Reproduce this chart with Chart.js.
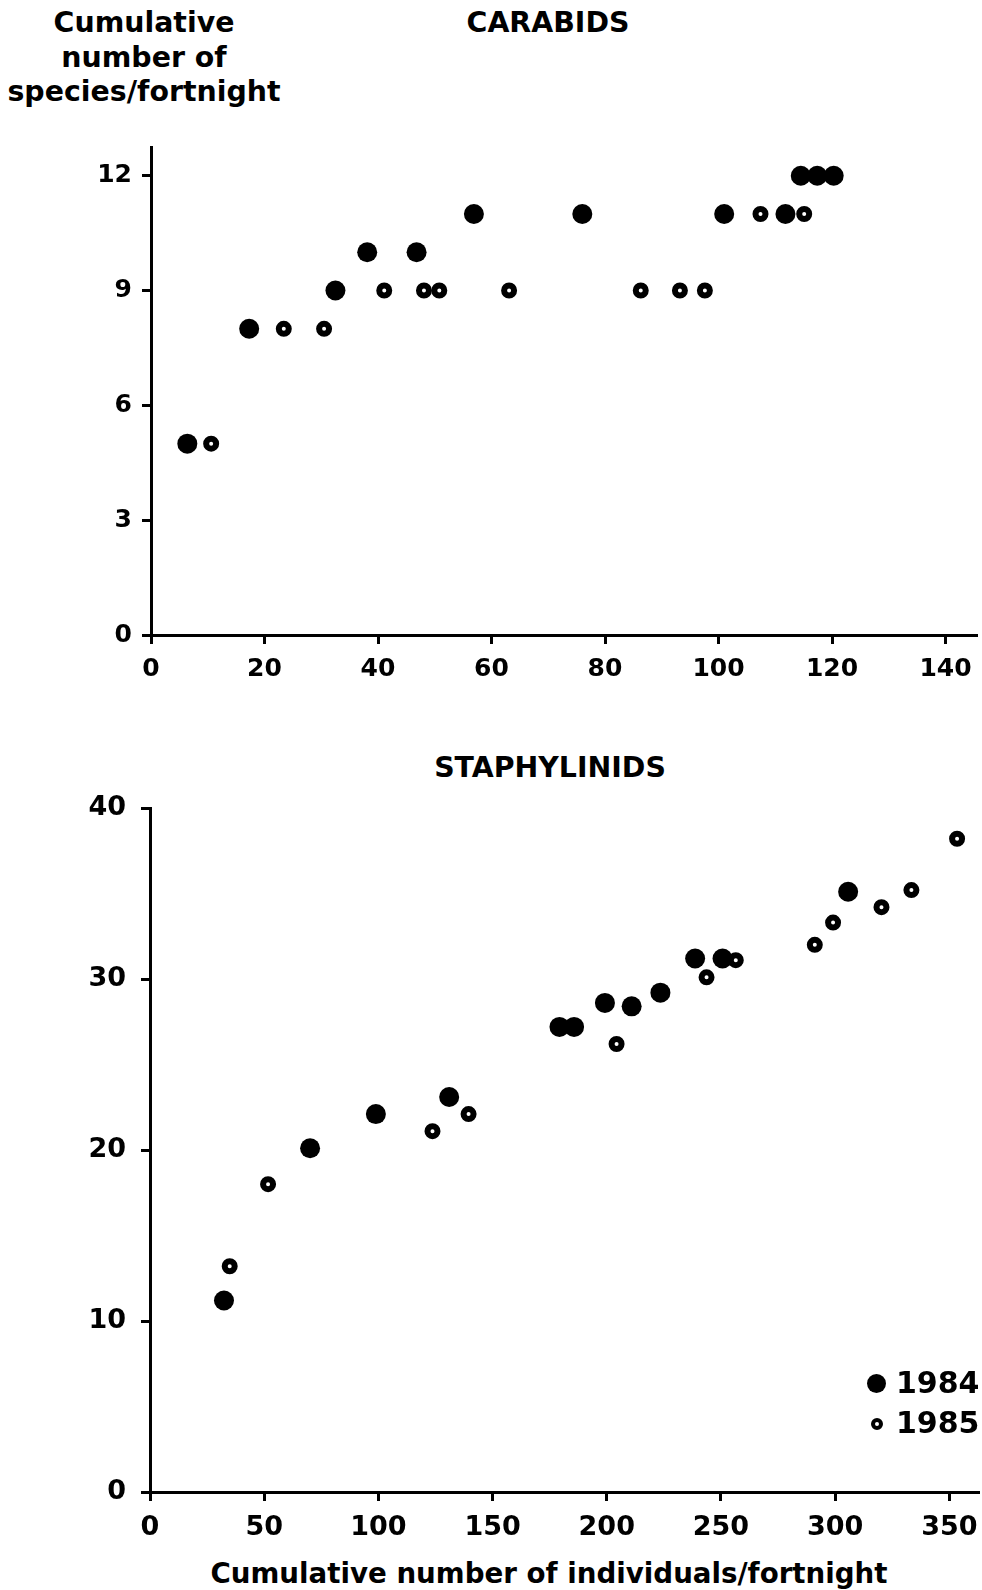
<!DOCTYPE html>
<html>
<head>
<meta charset="utf-8">
<script src="https://cdn.jsdelivr.net/npm/chart.js@4.4.0/dist/chart.umd.min.js"></script>
<style>
    body { margin: 0; background: #fff; }
    #page {
        position: relative; width: 982px; height: 1590px; overflow: hidden;
        font-family: 'DejaVu Sans', sans-serif; font-weight: bold; color: #000;
    }
    #page canvas { position: absolute; left: 0; }
    .txt { position: absolute; text-align: center; white-space: nowrap; font-size: 28.4px; }
    .dot { position: absolute; border-radius: 50%; box-sizing: border-box; }
</style>
</head>
<body>
<div id="page">
    <div class="txt" style="left:0; width:288px; top:6px; line-height:34.5px;">Cumulative<br>number of<br>species/fortnight</div>
    <div class="txt" style="left:348px; width:400px; top:6px; line-height:34.5px;">CARABIDS</div>
    <div class="txt" style="left:350px; width:400px; top:751px; line-height:34px;">STAPHYLINIDS</div>
    <div class="txt" style="left:149px; width:800px; top:1556px; line-height:35px; font-size:27.7px;">Cumulative number of individuals/fortnight</div>

    <canvas id="carabids" width="982" height="700" style="top:0;"></canvas>
    <canvas id="staphylinids" width="982" height="870" style="top:720px;"></canvas>

    <div class="dot" style="left:867px; top:1373.5px; width:19px; height:19px; background:#000;"></div>
    <div class="txt" style="left:896px; top:1367px; line-height:32px; text-align:left; font-size:30px;">1984</div>
    <div class="dot" style="left:870.5px; top:1418px; width:12px; height:12px; border:4px solid #000; background:#fff;"></div>
    <div class="txt" style="left:896px; top:1407px; line-height:32px; text-align:left; font-size:30px;">1985</div>
</div>

<script>
// carabids: cumulative individuals (x) vs cumulative species (y)
const carabidX1984 = [6.4, 17.3, 32.5, 38.1, 46.8, 56.9, 76.0, 101.0, 111.8, 114.5, 117.4, 120.3];
const carabidY1984 = [5, 8, 9, 10, 10, 11, 11, 11, 11, 12, 12, 12];
const carabidX1985 = [10.6, 23.4, 30.5, 41.1, 48.1, 50.8, 63.1, 86.3, 93.2, 97.6, 107.4, 115.1];
const carabidY1985 = [5, 8, 8, 9, 9, 9, 9, 9, 9, 9, 11, 11];
const carabidXTicks = [0, 20, 40, 60, 80, 100, 120, 140];
const carabidYTicks = [0, 3, 6, 9, 12];

// staphylinids
const staphX1984 = [32.4, 70.1, 98.9, 131.0, 179.3, 185.7, 199.2, 210.9, 223.5, 238.7, 250.7, 305.7];
const staphY1984 = [11.2, 20.1, 22.1, 23.1, 27.2, 27.2, 28.6, 28.4, 29.2, 31.2, 31.2, 35.1];
const staphX1985 = [34.9, 51.7, 123.7, 139.5, 204.3, 243.7, 256.5, 291.1, 299.1, 320.3, 333.4, 353.4];
const staphY1985 = [13.2, 18.0, 21.1, 22.1, 26.2, 30.1, 31.1, 32.0, 33.3, 34.2, 35.2, 38.2];
const staphXTicks = [0, 50, 100, 150, 200, 250, 300, 350];
const staphYTicks = [0, 10, 20, 30, 40];

function toPoints(xs, ys) {
    return xs.map((x, i) => ({ x: x, y: ys[i] }));
}

function makeAxis(ticks, min, max, fontSize, labelPad, fitSize, horizontal) {
    return {
        type: 'linear',
        min: min,
        max: max,
        afterBuildTicks: scale => {
            scale.ticks = ticks.map(v => ({ value: v }));
        },
        afterFit: scale => {
            if (horizontal) {
                scale.height = fitSize;
            } else {
                scale.width = fitSize;
            }
            // let labels overhang, keep the plot box where it is
            scale.paddingLeft = 0;
            scale.paddingRight = 0;
            scale.paddingTop = 0;
            scale.paddingBottom = 0;
        },
        grid: {
            display: true,
            drawOnChartArea: false,
            drawTicks: true,
            tickLength: 9,
            tickWidth: 3,
            tickColor: '#000'
        },
        border: { display: true, width: 3, color: '#000' },
        ticks: {
            color: '#000',
            padding: labelPad,
            autoSkip: false,
            maxRotation: 0,
            font: { family: 'DejaVu Sans', weight: 'bold', size: fontSize }
        }
    };
}

function buildChart(canvasId, d1984, d1985, axes, padding) {
    const ctx = document.getElementById(canvasId).getContext('2d');
    return new Chart(ctx, {
        type: 'scatter',
        data: {
            datasets: [{
                label: '1984',
                data: d1984,
                order: 2,
                pointRadius: 10,
                pointBackgroundColor: '#000',
                pointBorderWidth: 0
            }, {
                label: '1985',
                data: d1985,
                order: 1,
                pointRadius: 5,
                pointBackgroundColor: '#fff',
                pointBorderColor: '#000',
                pointBorderWidth: 6
            }]
        },
        options: {
            responsive: false,
            animation: false,
            events: [],
            clip: false,
            layout: { padding: padding, autoPadding: false },
            plugins: {
                legend: { display: false },
                tooltip: { enabled: false }
            },
            scales: axes
        }
    });
}

buildChart('carabids',
    toPoints(carabidX1984, carabidY1984),
    toPoints(carabidX1985, carabidY1985),
    {
        x: makeAxis(carabidXTicks, 0, 145.55, 25, 10, 50, true),
        y: makeAxis(carabidYTicks, 0, 12.75, 25, 10, 151, false)
    },
    { left: 0, right: 5, top: 147, bottom: 15 });

buildChart('staphylinids',
    toPoints(staphX1984, staphY1984),
    toPoints(staphX1985, staphY1985),
    {
        x: makeAxis(staphXTicks, 0, 363, 27, 11, 50, true),
        y: makeAxis(staphYTicks, 0, 40, 27, 15, 150, false)
    },
    { left: 0, right: 3, top: 88, bottom: 48 });
</script>
</body>
</html>
